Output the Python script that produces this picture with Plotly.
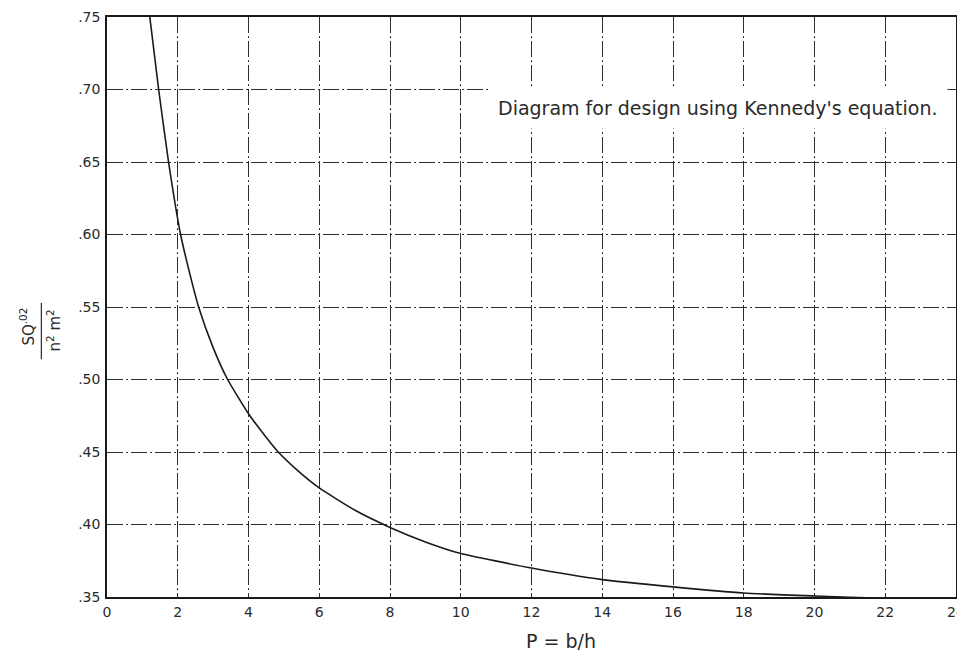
import plotly.graph_objects as go

# Curve (P = b/h vs S Q^0.02 / n^2 m^2)
p_values = [1.21, 1.46, 1.74, 2.08, 2.34, 2.59, 3.0, 3.41, 4.0, 4.47, 4.84, 5.4, 6.0, 7.0, 8.0, 9.0,
            10.0, 12.0, 14.0, 16.0, 18.0, 20.0, 22.0, 24.0]
ratio_values = [0.75, 0.70, 0.65, 0.60, 0.573, 0.55, 0.522, 0.50, 0.4764, 0.461, 0.45, 0.437, 0.4252, 0.41, 0.398, 0.388,
                0.380, 0.370, 0.362, 0.357, 0.3528, 0.3507, 0.349, 0.347]

x_ticks = [0, 2, 4, 6, 8, 10, 12, 14, 16, 18, 20, 22, 24]
y_ticks = [0.35, 0.40, 0.45, 0.50, 0.55, 0.60, 0.65, 0.70, 0.75]
y_tick_labels = [".35", ".40", ".45", ".50", ".55", ".60", ".65", ".70", ".75"]

font_family = "DejaVu Sans, Arial, sans-serif"
ink = "#2a2a2a"

fig = go.Figure()
fig.add_trace(go.Scatter(
    x=p_values, y=ratio_values, mode="lines",
    line=dict(color="#1a1a1a", width=1.6, shape="spline", smoothing=0.5),
    showlegend=False, hoverinfo="x+y",
))

grid_common = dict(
    showgrid=True, gridcolor="#2e2e2e", gridwidth=1.2, griddash="16px,3px,2px,3px",
    showline=True, linecolor="#1a1a1a", linewidth=1.6, mirror=True,
    ticks="", zeroline=False, automargin=False, ticklabeloverflow="allow",
    tickfont=dict(family=font_family, size=14, color=ink),
)

fig.update_xaxes(range=[0, 24], tickvals=x_ticks, ticktext=[str(t) for t in x_ticks],
                 ticklabelstandoff=1, **grid_common)
fig.update_yaxes(range=[0.35, 0.75], tickvals=y_ticks, ticktext=y_tick_labels,
                 ticklabelstandoff=2, **grid_common)

fig.add_annotation(
    xref="paper", yref="paper", x=0.72, y=0.843, xanchor="center", yanchor="middle",
    text="Diagram for design using Kennedy's equation.", showarrow=False,
    font=dict(family=font_family, size=19, color=ink),
    bgcolor="white", borderpad=9,
)

# y-axis title drawn as a rotated fraction
fig.add_annotation(
    xref="paper", yref="paper", x=-0.0937, y=0.467, xanchor="center", yanchor="middle",
    text="SQ<sup>.02</sup>", textangle=-90, showarrow=False,
    font=dict(family=font_family, size=15, color=ink),
)
fig.add_annotation(
    xref="paper", yref="paper", x=-0.062, y=0.460, xanchor="center", yanchor="middle",
    text="n<sup>2</sup> m<sup>2</sup>", textangle=-90, showarrow=False,
    font=dict(family=font_family, size=15, color=ink),
)
fig.add_shape(type="line", xref="paper", yref="paper", x0=-0.0773, x1=-0.0773,
              y0=0.410, y1=0.507, line=dict(color=ink, width=1.2))

fig.add_annotation(
    xref="paper", yref="paper", x=0.535, y=-0.076, xanchor="center", yanchor="middle",
    text="P = b/h", showarrow=False,
    font=dict(family=font_family, size=19, color=ink),
)

fig.update_layout(
    width=958, height=655,
    margin=dict(l=99, r=10, t=9, b=66),
    paper_bgcolor="white", plot_bgcolor="white",
    font=dict(family=font_family, color=ink),
)

fig.write_html("out.html")
